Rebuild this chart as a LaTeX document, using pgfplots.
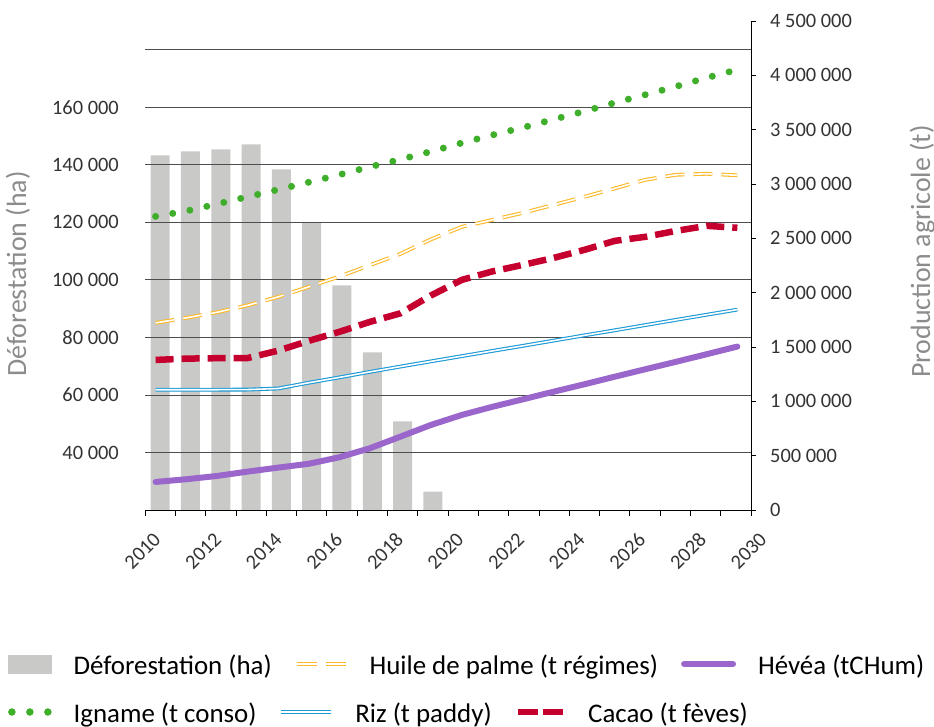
\documentclass[border=0pt]{standalone}
\usepackage{fontspec}
\setmainfont{Carlito}
\usepackage{pgfplots}
\usepackage{pgfplotstable}
\pgfplotsset{compat=1.18}

\definecolor{barc}{HTML}{C9CAC8}
\definecolor{huile}{HTML}{FBB829}
\definecolor{hevea}{HTML}{9A66CB}
\definecolor{igname}{HTML}{3FAE2A}
\definecolor{riz}{HTML}{1C9AD6}
\definecolor{cacao}{HTML}{C5002F}
\definecolor{gridc}{HTML}{4D4D4D}
\definecolor{labc}{HTML}{8C8C8C}
\definecolor{tickc}{HTML}{333333}

% deforestation (ha), left axis
\pgfplotstableread{
x deforest
2010.5 143300
2011.5 144700
2012.5 145400
2013.5 147100
2014.5 138400
2015.5 120100
2016.5 98100
2017.5 74800
2018.5 50800
2019.5 26400
}\deftab

% production (t), right axis
\pgfplotstableread{
x huile hevea igname riz cacao
2010.35 1722000 258000 2702000 1107000 1381000
2011.36 1768000 283000 2751000 1107000 1393000
2012.37 1819000 313000 2815000 1107000 1397000
2013.38 1883000 353000 2882000 1108000 1398000
2014.39 1961000 390000 2948000 1118000 1466000
2015.40 2053000 425000 3016000 1171000 1556000
2016.41 2148000 485000 3085000 1220000 1639000
2017.42 2253000 568000 3158000 1271000 1731000
2018.43 2357000 675000 3226000 1320000 1810000
2019.44 2491000 783000 3299000 1368000 1975000
2020.46 2606000 875000 3378000 1416000 2118000
2021.47 2670000 950000 3451000 1464000 2196000
2022.48 2735000 1019000 3520000 1511000 2256000
2023.49 2808000 1089000 3595000 1559000 2320000
2024.50 2882000 1157000 3669000 1607000 2394000
2025.51 2960000 1227000 3748000 1654000 2477000
2026.52 3039000 1296000 3822000 1702000 2514000
2027.53 3085000 1364000 3898000 1750000 2569000
2028.54 3094000 1434000 3978000 1797000 2615000
2029.55 3080000 1504000 4052000 1844000 2597000
}\prodtab

\tikzset{
  palm/.style={draw=huile, double=white, double distance=1.6bp, line width=1.1bp},
  rizl/.style={draw=riz, double=white, double distance=1.6bp, line width=1.1bp},
}

\pgfplotsset{
  base/.style={
    scale only axis, width=606bp, height=489bp,
    at={(145bp,217bp)}, anchor=south west,
    xmin=2010, xmax=2030, scaled ticks=false,
    tick label style={font=\fontsize{20.5}{24}\selectfont, color=tickc},
    label style={font=\fontsize{28}{32}\selectfont, color=labc},
    legend cell align=left,
  },
  leg/.style={
    draw=none, fill=none, inner sep=0pt, legend columns=3,
    font=\fontsize{27}{30}\selectfont,
    nodes={inner sep=0pt, text height=24bp, text depth=3bp},
    /tikz/every odd column/.append style={column sep=22bp},
    /tikz/every even column/.append style={column sep=23bp},
  },
}

\begin{document}
\begin{tikzpicture}
\useasboundingbox (0,0) rectangle (934bp,727bp);

\begin{axis}[base,
  ymin=20000, ymax=190000, axis on top,
  axis x line*=bottom, axis y line*=left,
  x axis line style={black, line width=0.8bp, -},
  y axis line style={draw=none},
  tick align=outside,
  xtick={2010,2012,...,2030}, minor xtick={2011,2013,...,2029},
  xticklabels={2010,2012,2014,2016,2018,2020,2022,2024,2026,2028,2030},
  xtick style={black, line width=0.8bp},
  major tick length=6bp, minor tick length=6bp,
  xticklabel style={anchor=center, xshift=-2.5bp, yshift=-35bp, rotate=45},
  ytick={40000,60000,...,180000},
  yticklabels={40 000,60 000,80 000,100 000,120 000,140 000,160 000,{}},
  ytick style={draw=none},
  yticklabel style={anchor=east, inner sep=0pt, xshift=-20bp},
  ymajorgrids, grid style={gridc, line width=0.8bp},
  ylabel={Déforestation (ha)},
  ylabel style={at={(axis description cs:-0.1962,0.4826)}, anchor=base},
  legend style={leg, at={(axis description cs:-0.2261,-0.3149)}, anchor=west},
]
\addplot[ybar, bar width=19bp, fill=barc, draw=none, forget plot]
  table[x=x, y=deforest] {\deftab};
\addlegendimage{legend image code/.code={
  \fill[barc] (0bp,-9bp) rectangle (43bp,9bp);}}
\addlegendentry{Déforestation (ha)}
\addlegendimage{legend image code/.code={
  \path[draw=none, fill=none] (0bp,0bp) -- (50bp,0bp);
  \draw[palm] (0bp,0bp) -- (20bp,0bp);
  \draw[palm] (29bp,0bp) -- (49bp,0bp);}}
\addlegendentry{Huile de palme (t régimes)}
\addlegendimage{legend image code/.code={
  \path[draw=none, fill=none] (0bp,0bp) -- (55bp,0bp);
  \draw[hevea, line width=6bp, line cap=round] (3bp,0bp) -- (52bp,0bp);}}
\addlegendentry{Hévéa (tCHum)}
\end{axis}

\begin{axis}[base,
  ymin=0, ymax=4500000,
  hide x axis, axis y line*=right,
  y axis line style={black, line width=0.8bp, -},
  tick align=outside, major tick length=5bp,
  ytick={0,500000,1000000,1500000,2000000,2500000,3000000,3500000,4000000,4500000},
  yticklabels={0,500 000,1 000 000,1 500 000,2 000 000,2 500 000,3 000 000,3 500 000,4 000 000,4 500 000},
  ytick style={black, line width=0.8bp},
  yticklabel style={anchor=west, inner sep=0pt, xshift=14bp},
  ylabel={Production agricole (t)},
  ylabel style={at={(axis description cs:1.2954,0.5286)}, anchor=base},
  legend style={leg, at={(axis description cs:-0.2261,-0.4131)}, anchor=west},
]
\addplot[palm, dash pattern=on 19bp off 9bp, forget plot]
  table[x=x, y=huile] {\prodtab};
\addplot[rizl, forget plot]
  table[x=x, y=riz] {\prodtab};
\addplot[cacao, line width=6.5bp, dash pattern=on 18bp off 8bp, forget plot]
  table[x=x, y=cacao] {\prodtab};
\addplot[hevea, line width=6bp, line cap=round, line join=round, forget plot]
  table[x=x, y=hevea] {\prodtab};
\addplot[igname, line width=7bp, line cap=round, dash pattern=on 0bp off 17.4bp, forget plot]
  table[x=x, y=igname] {\prodtab};
\addlegendimage{legend image code/.code={
  \fill[igname] (3.5bp,0bp) circle (3.5bp);
  \fill[igname] (21.5bp,0bp) circle (3.5bp);
  \fill[igname] (39.5bp,0bp) circle (3.5bp);}}
\addlegendentry{Igname (t conso)}
\addlegendimage{legend image code/.code={
  \draw[rizl] (0bp,0bp) -- (50bp,0bp);}}
\addlegendentry{Riz (t paddy)}
\addlegendimage{legend image code/.code={
  \draw[cacao, line width=6.5bp] (0bp,0bp) -- (20bp,0bp);
  \draw[cacao, line width=6.5bp] (25bp,0bp) -- (45bp,0bp);}}
\addlegendentry{Cacao (t fèves)}
\end{axis}
\end{tikzpicture}
\end{document}
